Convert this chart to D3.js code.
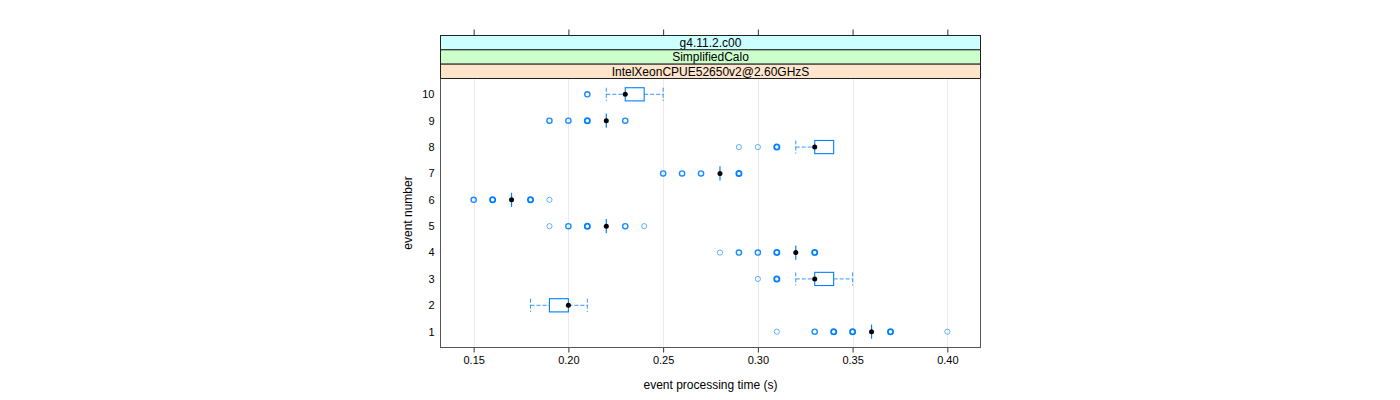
<!DOCTYPE html>
<html><head><meta charset="utf-8">
<script src="https://cdn.jsdelivr.net/npm/d3@7"></script>
<style>
html,body{margin:0;padding:0;background:#fff;}
text{font-family:"Liberation Sans",Arial,Helvetica,sans-serif;font-size:12px;fill:#000;}
</style></head>
<body><svg id="c" width="1400" height="400"></svg>
<script>
// ---- data ----
const events = [1,2,3,4,5,6,7,8,9,10];
const q1      = [0.36,0.19,0.33,0.32,0.22,0.17,0.28,0.33,0.22,0.23];
const medians = [0.36,0.20,0.33,0.32,0.22,0.17,0.28,0.33,0.22,0.23];
const q3      = [0.36,0.20,0.34,0.32,0.22,0.17,0.28,0.34,0.22,0.24];
const whiskLo = [0.36,0.18,0.32,0.32,0.22,0.17,0.28,0.32,0.22,0.22];
const whiskHi = [0.36,0.21,0.35,0.32,0.22,0.17,0.28,0.34,0.22,0.25];
// outliers: [value, overlap level]
const outliers = [
  [[0.31,1],[0.33,2],[0.34,3],[0.35,3],[0.37,3],[0.40,1]],
  [],
  [[0.30,1],[0.31,3]],
  [[0.28,1],[0.29,2],[0.30,2],[0.31,3],[0.33,3]],
  [[0.19,1],[0.20,2],[0.21,3],[0.23,2],[0.24,1]],
  [[0.15,2],[0.16,3],[0.18,3],[0.19,1]],
  [[0.25,2],[0.26,2],[0.27,2],[0.29,3]],
  [[0.29,1],[0.30,1],[0.31,3]],
  [[0.19,2],[0.20,2],[0.21,3],[0.23,2]],
  [[0.21,2]]
];
const xTicks = [0.15,0.20,0.25,0.30,0.35,0.40];
const stripLabels = ["g4.11.2.c00","SimplifiedCalo","IntelXeonCPUE52650v2@2.60GHzS"];
const stripColors = ["#ccffff","#ccffcc","#ffe5cc"];
const xTitle = "event processing time (s)";
const yTitle = "event number";

// ---- layout ----
const L = 440.5, R = 980.5, T = 78.5, B = 347.5;
const stripTop = 35.5, stripH = 14.33;
const svg = d3.select("#c");
const x = d3.scaleLinear().domain([0.1325,0.4175]).range([L,R]);
const y = d3.scaleLinear().domain([0.4,10.6]).range([B,T]);
const blue = "#0080ff";
const bh = (y(0)-y(1))/2;

// gridlines
svg.append("g").selectAll("line").data(xTicks).join("line")
  .attr("x1",d=>Math.round(x(d))+0.5).attr("x2",d=>Math.round(x(d))+0.5)
  .attr("y1",T).attr("y2",B).attr("stroke","#ebebeb").attr("stroke-width",1);

// bottom axis
const xb = svg.append("g").attr("transform",`translate(0,${B})`)
  .call(d3.axisBottom(x).tickValues(xTicks).tickFormat(d3.format(".2f")).tickSize(5).tickPadding(4));
xb.select(".domain").remove();
xb.selectAll("line").attr("stroke","#333");
xb.selectAll("text").style("font-size","11px").attr("fill","#000");

// top ticks
const xt = svg.append("g").attr("transform",`translate(0,${stripTop})`)
  .call(d3.axisTop(x).tickValues(xTicks).tickFormat("").tickSize(6));
xt.select(".domain").remove();
xt.selectAll("line").attr("stroke","#333");

// y labels
svg.append("g").selectAll("text").data(events).join("text")
  .attr("x",L-6).attr("y",d=>y(d)).attr("dy","0.35em").attr("text-anchor","end")
  .style("font-size","11px").text(d=>d);

// strips
const sg = svg.append("g");
stripLabels.forEach((s,i)=>{
  const y0 = stripTop + i*stripH;
  sg.append("rect").attr("x",L).attr("y",y0).attr("width",R-L).attr("height",stripH)
    .attr("fill",stripColors[i]).attr("stroke","#222").attr("stroke-width",1);
  sg.append("text").attr("x",(L+R)/2).attr("y",y0+stripH/2).attr("dy","0.36em")
    .attr("text-anchor","middle").text(s);
});

// boxes
const g = svg.append("g");
events.forEach((e,i)=>{
  const cy = y(e);
  if (whiskLo[i] < q1[i]) {
    g.append("line").attr("x1",x(whiskLo[i])).attr("x2",x(q1[i])).attr("y1",cy).attr("y2",cy)
      .attr("stroke",blue).attr("stroke-dasharray","4,2").attr("stroke-opacity",0.8);
    g.append("line").attr("x1",x(whiskLo[i])).attr("x2",x(whiskLo[i])).attr("y1",cy-bh/2).attr("y2",cy+bh/2)
      .attr("stroke",blue).attr("stroke-dasharray","4,2").attr("stroke-opacity",0.8);
  }
  if (whiskHi[i] > q3[i]) {
    g.append("line").attr("x1",x(q3[i])).attr("x2",x(whiskHi[i])).attr("y1",cy).attr("y2",cy)
      .attr("stroke",blue).attr("stroke-dasharray","4,2").attr("stroke-opacity",0.8);
    g.append("line").attr("x1",x(whiskHi[i])).attr("x2",x(whiskHi[i])).attr("y1",cy-bh/2).attr("y2",cy+bh/2)
      .attr("stroke",blue).attr("stroke-dasharray","4,2").attr("stroke-opacity",0.8);
  }
  if (q3[i] > q1[i]) {
    g.append("rect").attr("x",x(q1[i])).attr("y",cy-bh/2).attr("width",x(q3[i])-x(q1[i])).attr("height",bh)
      .attr("fill","none").attr("stroke",blue).attr("stroke-width",1.1);
  } else {
    g.append("line").attr("x1",x(q1[i])).attr("x2",x(q1[i])).attr("y1",cy-bh/2-0.5).attr("y2",cy+bh/2+0.5)
      .attr("stroke",blue).attr("stroke-width",1.2);
  }
  outliers[i].forEach(([v,c])=>{
    g.append("circle").attr("cx",x(v)).attr("cy",cy).attr("r",2.6).attr("fill","none")
      .attr("stroke",blue)
      .attr("stroke-width",c===1?1:(c===2?1.4:1.8))
      .attr("stroke-opacity",c===1?0.6:(c===2?0.9:1));
  });
  g.append("circle").attr("cx",x(medians[i])).attr("cy",cy).attr("r",2.5).attr("fill","#000");
});

// panel frame
svg.append("rect").attr("x",L).attr("y",T).attr("width",R-L).attr("height",B-T)
  .attr("fill","none").attr("stroke","#555").attr("stroke-width",1);
svg.append("line").attr("x1",L).attr("x2",R).attr("y1",T).attr("y2",T).attr("stroke","#222");

// titles
svg.append("text").attr("x",(L+R)/2).attr("y",385).attr("dy","0.35em").attr("text-anchor","middle").text(xTitle);
svg.append("text").attr("transform",`translate(408,${(T+B)/2}) rotate(-90)`).attr("dy","0.35em")
  .attr("text-anchor","middle").text(yTitle);
</script></body></html>
